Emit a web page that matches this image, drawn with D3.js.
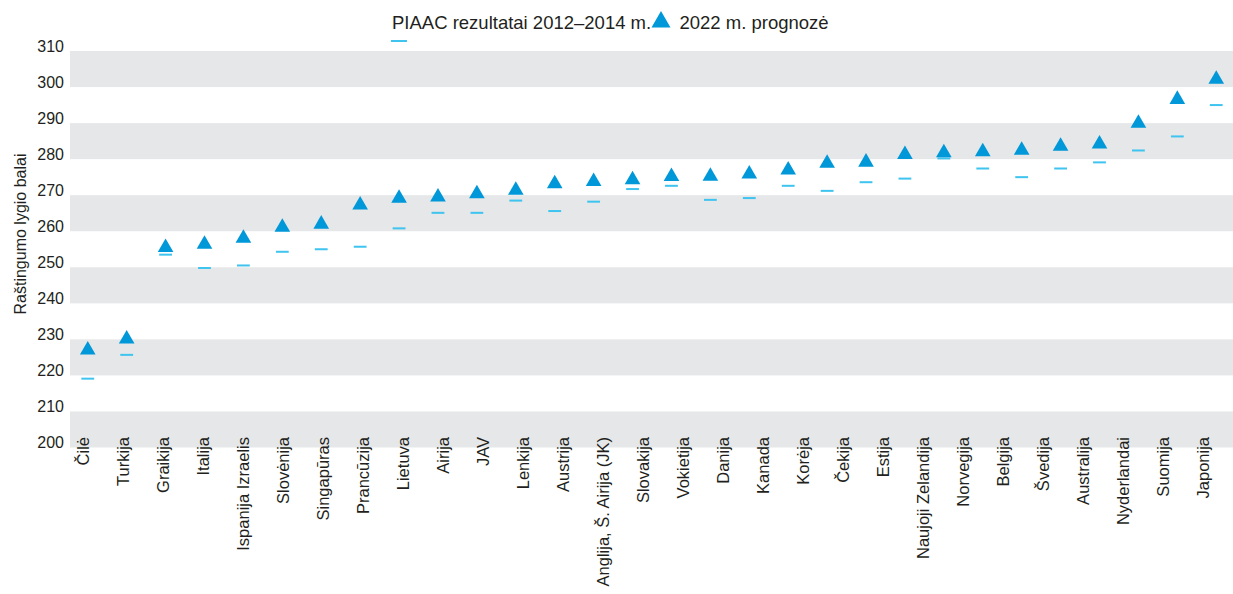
<!DOCTYPE html>
<html>
<head>
<meta charset="utf-8">
<script src="https://cdn.jsdelivr.net/npm/d3@7"></script>
<style>
  body { margin: 0; background: #fff; }
  text { font-family: "Liberation Sans", Arial, sans-serif; fill: #231f20; }
</style>
</head>
<body>
<div id="chart"></div>
<script>
// Raštingumo lygio balai

const width = 1233;
const height = 594;

const labels = ["Čilė", "Turkija", "Graikija", "Italija", "Ispanija Izraelis", "Slovėnija",
    "Singapūras", "Prancūzija", "Lietuva", "Airija", "JAV", "Lenkija", "Austrija",
    "Anglija, Š. Airija (JK)", "Slovakija", "Vokietija", "Danija", "Kanada", "Korėja",
    "Čekija", "Estija", "Naujoji Zelandija", "Norvegija", "Belgija", "Švedija",
    "Australija", "Nyderlandai", "Suomija", "Japonija"];

// PIAAC 2012–2014 (dash) and 2022 forecast (triangle), 30 points
const piaac = [219.1, 225.7, 253.5, 249.8, 250.5, 254.3, 255.0, 255.7, 260.8, 265.1,
    265.1, 268.5, 265.6, 268.2, 271.7, 272.6, 268.7, 269.2, 272.6, 271.2,
    273.6, 274.6, 280.2, 277.4, 275.0, 277.4, 279.1, 282.4, 286.3, 295.0];
const forecast = [227.7, 230.7, 256.1, 257.0, 258.7, 261.7, 262.6, 267.9, 269.8, 270.1,
    271.0, 272.0, 273.8, 274.4, 274.9, 275.8, 275.9, 276.5, 277.6, 279.5,
    279.8, 281.9, 282.4, 282.7, 283.1, 284.2, 284.8, 290.6, 297.2, 302.8];

const yTicks = d3.range(200, 311, 10);

const plotLeft = 70;
const triColor = "#0098d8";
const dashColor = "#3ec4ef";

const svg = d3.select("#chart")
    .append("svg")
    .attr("width", width)
    .attr("height", height);

const y = d3.scaleLinear()
    .domain([200, 310])
    .range([447.5, 51]);

const xPoint = d3.scaleBand()
    .domain(d3.range(forecast.length))
    .range([68.3, 1235.7]);

const xLabel = d3.scaleBand()
    .domain(labels)
    .range([63.3, 1223.3]);

// grey bands
svg.append("g")
    .selectAll("rect")
    .data(yTicks.filter((d, i) => i % 2 === 0 && d < 310))
    .enter()
    .append("rect")
    .attr("x", plotLeft)
    .attr("width", width - plotLeft)
    .attr("y", d => y(d + 10))
    .attr("height", d => y(d) - y(d + 10))
    .attr("fill", "#e6e7e8");

// y axis
const yAxis = svg.append("g")
    .attr("transform", "translate(" + plotLeft + ",0)")
    .call(d3.axisLeft(y).tickValues(yTicks).tickSize(0).tickPadding(6));
yAxis.select(".domain").remove();
yAxis.selectAll("text")
    .attr("dy", "0.02em")
    .style("font-size", "16px")
    .style("font-family", "Liberation Sans, Arial, sans-serif")
    .attr("fill", "#231f20");

svg.append("text")
    .attr("transform", "rotate(-90)")
    .attr("x", -234)
    .attr("y", 20)
    .attr("dy", "0.35em")
    .style("text-anchor", "middle")
    .style("font-size", "16px")
    .text("Raštingumo lygio balai");

// x axis labels
const xAxis = svg.append("g")
    .attr("transform", "translate(0,437)")
    .call(d3.axisBottom(xLabel).tickSize(0));
xAxis.select(".domain").remove();
xAxis.selectAll("text")
    .attr("x", 0)
    .attr("y", 0)
    .attr("dy", "0.35em")
    .attr("transform", "rotate(-90)")
    .style("text-anchor", "end")
    .style("font-size", "16.5px")
    .style("font-family", "Liberation Sans, Arial, sans-serif")
    .attr("fill", "#231f20");

// markers
const triSize = 106;
const triOff = Math.sqrt(triSize / (Math.sqrt(3) * 3)) / 2;
const cx = i => xPoint(i) + xPoint.bandwidth() / 2;

svg.append("g")
    .selectAll("rect")
    .data(piaac)
    .enter()
    .append("rect")
    .attr("x", (d, i) => cx(i) - 6.4)
    .attr("y", d => y(d) - 1)
    .attr("width", 12.8)
    .attr("height", 2)
    .attr("fill", dashColor);

svg.append("g")
    .selectAll("path")
    .data(forecast)
    .enter()
    .append("path")
    .attr("d", d3.symbol().type(d3.symbolTriangle).size(triSize))
    .attr("transform", (d, i) => "translate(" + cx(i) + "," + (y(d) + triOff) + ")")
    .attr("fill", triColor);

// legend
const legend = svg.append("g");
legend.append("rect")
    .attr("x", 391)
    .attr("y", 40)
    .attr("width", 16)
    .attr("height", 2)
    .attr("fill", dashColor);
legend.append("text")
    .attr("x", 392)
    .attr("y", 28.5)
    .style("font-size", "18.5px")
    .text("PIAAC rezultatai 2012–2014 m.");
const legSize = 156;
legend.append("path")
    .attr("d", d3.symbol().type(d3.symbolTriangle).size(legSize))
    .attr("transform", "translate(661," + (19.3 + Math.sqrt(legSize / (Math.sqrt(3) * 3)) / 2) + ")")
    .attr("fill", triColor);
legend.append("text")
    .attr("x", 679.5)
    .attr("y", 28.5)
    .style("font-size", "18.5px")
    .text("2022 m. prognozė");
</script>
</body>
</html>
